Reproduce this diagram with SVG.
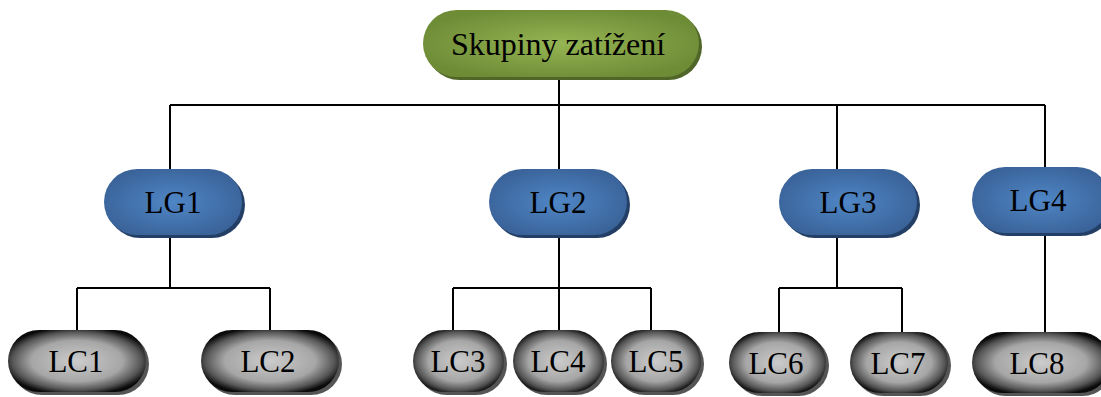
<svg xmlns="http://www.w3.org/2000/svg" width="1101" height="397" viewBox="0 0 1101 397">
<defs>
<radialGradient id="gGreen" cx="50%" cy="50%" r="55%">
<stop offset="0" stop-color="#95b553"/><stop offset="1" stop-color="#6e8c36"/>
</radialGradient>
<radialGradient id="gBlue" cx="50%" cy="50%" r="55%">
<stop offset="0" stop-color="#4f86c6"/><stop offset="1" stop-color="#3a6399"/>
</radialGradient>
<radialGradient id="gGray" cx="50%" cy="50%" r="55%">
<stop offset="0" stop-color="#cccccc"/><stop offset="0.6" stop-color="#a6a6a6"/><stop offset="0.85" stop-color="#555"/><stop offset="1" stop-color="#0a0a0a"/>
</radialGradient>
<style>
.t{font-family:"Liberation Serif","Times New Roman",serif;font-size:31px;fill:#000;text-anchor:middle;dominant-baseline:central}
.r{font-size:32px}
.sg{fill:#4f6628}.sb{fill:#233f66}.sk{fill:#555}
.c{stroke:#000;stroke-width:2;fill:none}
</style>
</defs>
<g id="connectors" class="c">
<path d="M559 78V105M170 105H1045M170 105V169M559 105V169M837 105V169M1045 105V167"/>
<path d="M170 236V288M77 288H270M77 288V330M270 288V330"/>
<path d="M559 236V288M453 288H651M453 288V330M559 288V330M651 288V330"/>
<path d="M837 236V288M779 288H902M779 288V332M902 288V332"/>
<path d="M1045 234V332"/>
</g>
<g id="root">
<rect class="sg" x="426" y="13" width="276" height="67" rx="33.5"/>
<rect x="423" y="10" width="276" height="67" rx="33.5" fill="url(#gGreen)"/>
<text class="t r" x="558" y="44">Skupiny zatížení</text>
</g>
<g id="LG1">
<rect class="sb" x="107" y="172" width="138" height="66" rx="33"/>
<rect x="104" y="169" width="138" height="66" rx="33" fill="url(#gBlue)"/>
<text class="t" x="173" y="202">LG1</text>
</g>
<g id="LG2">
<rect class="sb" x="492" y="172" width="138" height="66" rx="33"/>
<rect x="489" y="169" width="138" height="66" rx="33" fill="url(#gBlue)"/>
<text class="t" x="558" y="202">LG2</text>
</g>
<g id="LG3">
<rect class="sb" x="782" y="172" width="138" height="66" rx="33"/>
<rect x="779" y="169" width="138" height="66" rx="33" fill="url(#gBlue)"/>
<text class="t" x="848" y="202">LG3</text>
</g>
<g id="LG4">
<rect class="sb" x="975" y="170" width="138" height="66" rx="33"/>
<rect x="972" y="167" width="138" height="66" rx="33" fill="url(#gBlue)"/>
<text class="t" x="1038" y="200">LG4</text>
</g>
<g id="LC1">
<rect class="sk" x="11" y="333" width="138" height="62" rx="31"/>
<rect x="8" y="330" width="138" height="62" rx="31" fill="url(#gGray)"/>
<text class="t" x="76" y="361">LC1</text>
</g>
<g id="LC2">
<rect class="sk" x="204" y="333" width="138" height="62" rx="31"/>
<rect x="201" y="330" width="138" height="62" rx="31" fill="url(#gGray)"/>
<text class="t" x="268" y="361">LC2</text>
</g>
<g id="LC3">
<rect class="sk" x="416" y="333" width="91" height="62" rx="31"/>
<rect x="413" y="330" width="91" height="62" rx="31" fill="url(#gGray)"/>
<text class="t" x="458" y="361">LC3</text>
</g>
<g id="LC4">
<rect class="sk" x="516" y="333" width="91" height="62" rx="31"/>
<rect x="513" y="330" width="91" height="62" rx="31" fill="url(#gGray)"/>
<text class="t" x="558" y="361">LC4</text>
</g>
<g id="LC5">
<rect class="sk" x="614" y="333" width="90" height="62" rx="31"/>
<rect x="611" y="330" width="90" height="62" rx="31" fill="url(#gGray)"/>
<text class="t" x="656" y="361">LC5</text>
</g>
<g id="LC6">
<rect class="sk" x="732" y="335" width="97" height="61" rx="30.5"/>
<rect x="729" y="332" width="97" height="61" rx="30.5" fill="url(#gGray)"/>
<text class="t" x="776" y="363">LC6</text>
</g>
<g id="LC7">
<rect class="sk" x="853" y="335" width="98" height="61" rx="30.5"/>
<rect x="850" y="332" width="98" height="61" rx="30.5" fill="url(#gGray)"/>
<text class="t" x="898" y="363">LC7</text>
</g>
<g id="LC8">
<rect class="sk" x="975" y="335" width="138" height="61" rx="30.5"/>
<rect x="972" y="332" width="138" height="61" rx="30.5" fill="url(#gGray)"/>
<text class="t" x="1037" y="363">LC8</text>
</g>
</svg>
